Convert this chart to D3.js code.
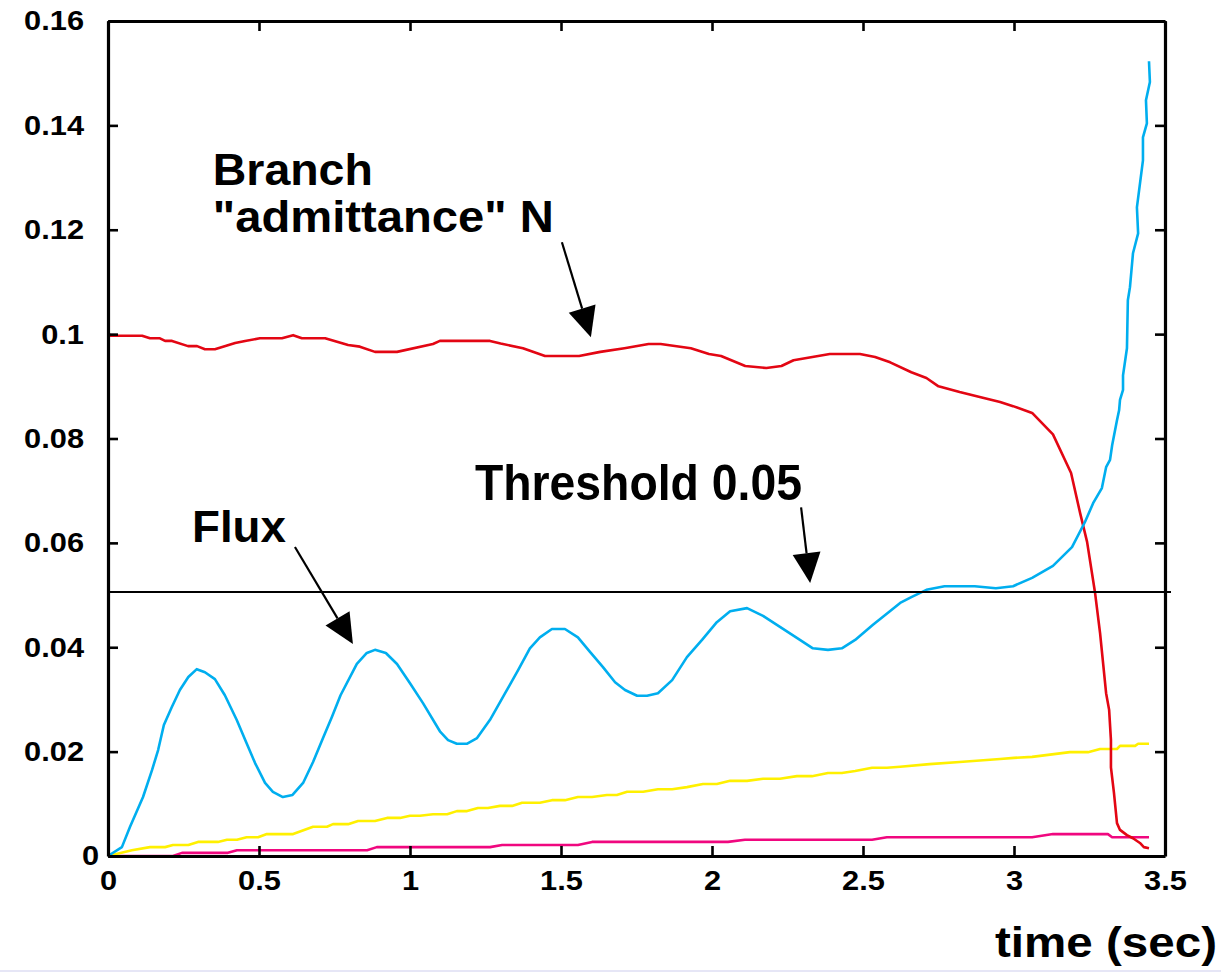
<!DOCTYPE html>
<html>
<head>
<meta charset="utf-8">
<script src="https://cdn.jsdelivr.net/npm/d3@7/dist/d3.min.js"></script>
<style>
  html, body { margin: 0; padding: 0; background: #fff; }
  svg { display: block; }
  text { font-family: "Liberation Sans", Arial, Helvetica, sans-serif; font-weight: bold; fill: #000; }
</style>
</head>
<body>
<svg id="chart" width="1221" height="972"></svg>
<script>
// ---- data ----
const xTicks = [0, 0.5, 1, 1.5, 2, 2.5, 3, 3.5];
const xTickLabels = ["0", "0.5", "1", "1.5", "2", "2.5", "3", "3.5"];
const yTicks = [0, 0.02, 0.04, 0.06, 0.08, 0.1, 0.12, 0.14, 0.16];
const yTickLabels = ["0", "0.02", "0.04", "0.06", "0.08", "0.1", "0.12", "0.14", "0.16"];
const threshold = 0.0506;
const xLabel = "time (sec)";

// Branch "admittance" N (red)
const admittanceN = [
  [0,0.1002],[0.008,0.0997],[0.113,0.0997],[0.139,0.0992],[0.172,0.0992],[0.189,0.0987],[0.212,0.0987],
  [0.265,0.0977],[0.295,0.0977],[0.321,0.0971],[0.354,0.0971],[0.421,0.0983],[0.454,0.0987],[0.503,0.0992],
  [0.576,0.0992],[0.613,0.0998],[0.642,0.0992],[0.719,0.0992],[0.795,0.0979],[0.834,0.0976],[0.884,0.0966],
  [0.957,0.0966],[1.076,0.0981],[1.099,0.0987],[1.265,0.0987],[1.30,0.0982],[1.374,0.0973],[1.447,0.0958],
  [1.56,0.0958],[1.63,0.0966],[1.71,0.0973],[1.79,0.0981],[1.83,0.0981],[1.93,0.0973],[1.99,0.0962],
  [2.03,0.0958],[2.11,0.0939],[2.18,0.0935],[2.23,0.0939],[2.27,0.0950],[2.39,0.0962],[2.49,0.0962],
  [2.54,0.0956],[2.59,0.0946],[2.66,0.0927],[2.71,0.0916],[2.75,0.0900],[2.82,0.0889],[2.89,0.0879],
  [2.954,0.0870],[2.997,0.0862],[3.060,0.0849],[3.129,0.0808],[3.189,0.0734],[3.219,0.0657],[3.242,0.0602],
  [3.268,0.0506],[3.285,0.0427],[3.305,0.0312],[3.315,0.0280],[3.321,0.0222],[3.321,0.0170],[3.331,0.0121],
  [3.341,0.0063],[3.351,0.0050],[3.374,0.0040],[3.394,0.0034],[3.417,0.0025],[3.430,0.0017],[3.447,0.0015]
];

// Flux (cyan)
const flux = [
  [0,0],[0.046,0.0017],[0.073,0.0056],[0.116,0.0113],[0.146,0.0165],[0.166,0.0203],[0.185,0.0251],
  [0.211,0.0285],[0.238,0.0318],[0.266,0.0343],[0.294,0.0358],[0.321,0.0352],[0.354,0.0339],[0.387,0.0308],
  [0.426,0.0261],[0.459,0.0216],[0.487,0.0178],[0.520,0.0140],[0.546,0.0123],[0.579,0.0113],[0.611,0.0117],
  [0.646,0.0140],[0.679,0.0180],[0.712,0.0226],[0.741,0.0266],[0.770,0.0308],[0.824,0.0368],[0.857,0.0389],
  [0.884,0.0395],[0.920,0.0389],[0.957,0.0368],[1.000,0.0331],[1.043,0.0293],[1.099,0.0239],[1.126,0.0222],
  [1.155,0.0215],[1.188,0.0215],[1.222,0.0226],[1.265,0.0261],[1.315,0.0312],[1.358,0.0356],[1.397,0.0398],
  [1.430,0.0419],[1.470,0.0435],[1.513,0.0435],[1.556,0.0419],[1.596,0.0391],[1.639,0.0362],[1.679,0.0333],
  [1.712,0.0318],[1.752,0.0307],[1.785,0.0307],[1.821,0.0312],[1.868,0.0337],[1.917,0.0381],[1.967,0.0414],
  [2.016,0.0448],[2.060,0.0469],[2.116,0.0475],[2.169,0.0460],[2.225,0.0439],[2.281,0.0418],[2.334,0.0398],
  [2.384,0.0395],[2.430,0.0398],[2.474,0.0414],[2.533,0.0443],[2.589,0.0469],[2.623,0.0485],[2.66,0.0496],
  [2.71,0.0510],[2.77,0.0517],[2.87,0.0517],[2.94,0.0513],[2.997,0.0517],[3.060,0.0533],[3.129,0.0556],
  [3.192,0.0592],[3.235,0.0640],[3.262,0.0676],[3.291,0.0705],[3.305,0.0745],[3.318,0.0759],[3.325,0.0787],
  [3.341,0.0835],[3.348,0.0854],[3.351,0.0874],[3.361,0.0893],[3.361,0.0921],[3.374,0.0973],[3.377,0.1065],
  [3.384,0.1090],[3.394,0.1155],[3.411,0.1193],[3.407,0.1243],[3.427,0.1333],[3.427,0.1377],[3.440,0.1404],
  [3.437,0.1448],[3.450,0.1483],[3.447,0.1523]
];

// yellow series
const yellowSeries = [
  [0,0],[0.079,0.0011],[0.139,0.0017],[0.189,0.0017],[0.215,0.0021],[0.266,0.0021],[0.298,0.0027],[0.364,0.0027],
  [0.394,0.0031],[0.427,0.0031],[0.459,0.0036],[0.497,0.0036],[0.526,0.0042],[0.613,0.0042],[0.679,0.0056],
  [0.725,0.0056],[0.745,0.0061],[0.795,0.0061],[0.828,0.0067],[0.884,0.0067],[0.924,0.0073],[0.967,0.0073],
  [1.0,0.0077],[1.033,0.0077],[1.076,0.0080],[1.123,0.0080],[1.155,0.0086],[1.189,0.0086],[1.225,0.0092],
  [1.258,0.0092],[1.298,0.0096],[1.338,0.0096],[1.371,0.0102],[1.430,0.0102],[1.470,0.0107],[1.513,0.0107],
  [1.556,0.0113],[1.603,0.0113],[1.652,0.0117],[1.685,0.0117],[1.719,0.0123],[1.772,0.0123],[1.821,0.0128],
  [1.868,0.0128],[1.917,0.0132],[1.970,0.0138],[2.016,0.0138],[2.060,0.0144],[2.116,0.0144],[2.169,0.0148],
  [2.225,0.0148],[2.281,0.0153],[2.331,0.0153],[2.384,0.0159],[2.430,0.0159],[2.474,0.0163],[2.530,0.0169],
  [2.579,0.0169],[2.623,0.0171],[2.72,0.0176],[2.82,0.0180],[2.954,0.0186],[3.0,0.0188],[3.06,0.0190],
  [3.185,0.0199],[3.245,0.0199],[3.285,0.0205],[3.341,0.0205],[3.351,0.0211],[3.401,0.0211],[3.411,0.0215],
  [3.447,0.0215]
];

// magenta series
const magentaSeries = [
  [0,0],[0.215,0],[0.245,0.0006],[0.397,0.0006],[0.427,0.0011],[0.858,0.0011],[0.890,0.0017],[1.265,0.0017],
  [1.305,0.0021],[1.556,0.0021],[1.603,0.0027],[2.053,0.0027],[2.109,0.0031],[2.530,0.0031],[2.579,0.0036],
  [3.060,0.0036],[3.129,0.0042],[3.311,0.0042],[3.325,0.0036],[3.447,0.0036]
];

// annotations
const annotations = [
  { lines: ["Branch", "\"admittance\" N"], x: 0.347, y: [0.1285, 0.1195], size: 44, widths: [160, 341],
    arrow: [[1.503, 0.1176], [1.599, 0.0994]] },
  { lines: ["Threshold 0.05"], x: 1.215, y: [0.0682], size: 50, widths: [327],
    arrow: [[2.295, 0.0668], [2.325, 0.0523]] },
  { lines: ["Flux"], x: 0.278, y: [0.0602], size: 45, widths: [94],
    arrow: [[0.619, 0.0592], [0.811, 0.0406]] }
];

(function () {
  // ---- layout ----
  const svg = d3.select("#chart");
  const mLeft = 108, mRight = 1165, mTop = 21, mBottom = 856;
  const x = d3.scaleLinear().domain([0, 3.5]).range([mLeft, mRight]);
  const y = d3.scaleLinear().domain([0, 0.16]).range([mBottom, mTop]);

  const stretch = 1.1;
  function stretchText(sel) {
    sel.each(function () {
      const w = this.getComputedTextLength();
      d3.select(this).attr("textLength", w * stretch).attr("lengthAdjust", "spacingAndGlyphs");
    });
  }

  // series
  const line = d3.line().x(d => x(d[0])).y(d => y(d[1]));
  const seriesDefs = [
    { data: magentaSeries, color: "#f0077f" },
    { data: yellowSeries, color: "#fff000" },
    { data: admittanceN, color: "#e30613" },
    { data: flux, color: "#00aeef" }
  ];
  svg.append("g").selectAll("path").data(seriesDefs).join("path")
    .attr("d", d => line(d.data))
    .attr("fill", "none")
    .attr("stroke", d => d.color)
    .attr("stroke-width", 2.6)
    .attr("stroke-linejoin", "round");

  // threshold line
  svg.append("line")
    .attr("x1", x(0)).attr("x2", x(3.5) + 6)
    .attr("y1", y(threshold)).attr("y2", y(threshold))
    .attr("stroke", "#000").attr("stroke-width", 2);

  // axes
  function styleAxis(g) {
    g.selectAll(".domain").attr("stroke", "#000").attr("stroke-width", 3.2);
    g.selectAll(".tick line").attr("stroke", "#000").attr("stroke-width", 2.6);
  }
  const gx = svg.append("g").attr("transform", `translate(0,${mBottom})`)
    .call(d3.axisBottom(x).tickValues(xTicks).tickFormat((d, i) => xTickLabels[i])
      .tickSizeInner(-10).tickSizeOuter(0).tickPadding(14));
  gx.call(styleAxis);
  gx.selectAll("text").attr("font-size", 28).attr("fill", "#000")
    .attr("font-family", "Liberation Sans, Arial, sans-serif").attr("font-weight", "bold").call(stretchText);

  const gy = svg.append("g").attr("transform", `translate(${mLeft},0)`)
    .call(d3.axisLeft(y).tickValues(yTicks).tickFormat((d, i) => yTickLabels[i])
      .tickSizeInner(-10).tickSizeOuter(0).tickPadding(24));
  gy.call(styleAxis);
  gy.selectAll("text").attr("font-size", 28).attr("fill", "#000")
    .attr("font-family", "Liberation Sans, Arial, sans-serif").attr("font-weight", "bold").call(stretchText);
  // the zero label on the y axis sits closer to the axis
  gy.selectAll(".tick").filter(d => d === 0).select("text").attr("x", -9);

  const gt = svg.append("g").attr("transform", `translate(0,${mTop})`)
    .call(d3.axisTop(x).tickValues(xTicks).tickFormat("").tickSizeInner(-10).tickSizeOuter(0));
  gt.call(styleAxis);
  const gr = svg.append("g").attr("transform", `translate(${mRight},0)`)
    .call(d3.axisRight(y).tickValues(yTicks).tickFormat("").tickSizeInner(-10).tickSizeOuter(0));
  gr.call(styleAxis);

  // x axis title
  svg.append("text").attr("x", 995).attr("y", 957)
    .attr("font-size", 42).attr("textLength", 222).attr("lengthAdjust", "spacingAndGlyphs")
    .text(xLabel);

  // annotations with arrows
  annotations.forEach(a => {
    a.lines.forEach((t, i) => {
      svg.append("text").attr("x", x(a.x)).attr("y", y(a.y[i]))
        .attr("font-size", a.size).attr("textLength", a.widths[i]).attr("lengthAdjust", "spacingAndGlyphs")
        .text(t);
    });
    const [p0, p1] = a.arrow;
    const x0 = x(p0[0]), y0 = y(p0[1]), x1 = x(p1[0]), y1 = y(p1[1]);
    const ang = Math.atan2(y1 - y0, x1 - x0);
    const headLen = 30, headHalf = 14;
    const bx = x1 - headLen * Math.cos(ang), by = y1 - headLen * Math.sin(ang);
    svg.append("line").attr("x1", x0).attr("y1", y0).attr("x2", bx).attr("y2", by)
      .attr("stroke", "#000").attr("stroke-width", 2.2);
    const nx = -Math.sin(ang), ny = Math.cos(ang);
    svg.append("path")
      .attr("d", `M${x1},${y1}L${bx + nx * headHalf},${by + ny * headHalf}L${bx - nx * headHalf},${by - ny * headHalf}Z`)
      .attr("fill", "#000");
  });

  // faint bottom border line of the image
  svg.append("rect").attr("x", 0).attr("y", 970).attr("width", 1221).attr("height", 2).attr("fill", "#e6e6f6");
})();
</script>
</body>
</html>
